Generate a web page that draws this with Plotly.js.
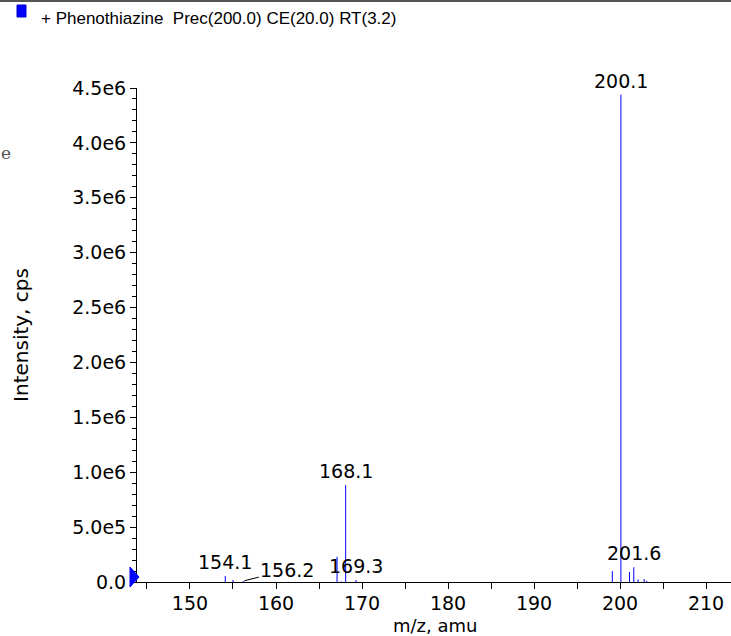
<!DOCTYPE html>
<html>
<head>
<meta charset="utf-8">
<script src="https://cdn.plot.ly/plotly-3.0.1.min.js"></script>
<style>html,body{margin:0;padding:0;background:#fff;}#chart{width:731px;height:636px;}</style>
</head>
<body>
<div id="chart"></div>
<script>
// Peak list (m/z, intensity in cps)
const peakMz = [154.1, 155.0, 156.2, 167.1, 167.6, 168.1, 169.3, 199.1, 200.1, 201.1, 201.6, 202.1, 202.8, 203.1];
const peakIntensity = [55000, 18000, 9000, 230000, 5000, 883000, 18000, 100000, 4440000, 91000, 134000, 24000, 27000, 10000];

// Labelled peaks
const labelMz = [154.1, 156.2, 168.1, 169.3, 200.1, 201.6];
const labelText = ["154.1", "156.2", "168.1", "169.3", "200.1", "201.6"];

// Axis ticks
const yTickVals = [0, 5e5, 1e6, 1.5e6, 2e6, 2.5e6, 3e6, 3.5e6, 4e6, 4.5e6];
const yTickText = ["0.0", "5.0e5", "1.0e6", "1.5e6", "2.0e6", "2.5e6", "3.0e6", "3.5e6", "4.0e6", "4.5e6"];
const xTickVals = [150, 160, 170, 180, 190, 200, 210];
const xTickText = ["150", "160", "170", "180", "190", "200", "210"];

const legendText = "+ Phenothiazine\u00A0\u00A0Prec(200.0) CE(20.0) RT(3.2)";
const xTitle = "m/z, amu";
const yTitle = "Intensity, cps";

const W = 731, H = 636;
const M = {l: 137, r: 0, t: 88, b: 54};
const PW = W - M.l - M.r, PH = H - M.t - M.b;
const px = x => (x - M.l) / PW;
const py = y => (H - M.b - y) / PH;

const xs = [], ys = [];
peakMz.forEach((m, i) => { xs.push(m, m, null); ys.push(0, peakIntensity[i], null); });

const trace = {
  type: 'scatter', mode: 'lines', x: xs, y: ys,
  line: {color: '#0000ff', width: 1}, hoverinfo: 'skip', showlegend: false
};

const annotations = labelMz.map((m, i) => {
  const idx = peakMz.indexOf(m);
  const inten = peakIntensity[idx];
  if (labelText[i] === "156.2") {
    return {x: m, y: inten, xref: 'x', yref: 'y', text: labelText[i], showarrow: true,
      arrowhead: 0, arrowwidth: 1, arrowcolor: '#000', ax: 44, ay: -11, standoff: 1,
      font: {family: 'DejaVu Sans', size: 19, color: '#000'}};
  }
  return {x: m, y: inten, xref: 'x', yref: 'y', text: labelText[i], showarrow: false,
    yanchor: 'middle', yshift: 14, font: {family: 'DejaVu Sans', size: 19, color: '#000'}};
});

annotations.push({
  x: px(39), y: py(18), xref: 'paper', yref: 'paper', xanchor: 'left', yanchor: 'middle',
  text: legendText, showarrow: false, font: {family: 'Liberation Sans', size: 17, color: '#000'}
});
annotations.push({
  x: px(6), y: py(153), xref: 'paper', yref: 'paper', xanchor: 'center', yanchor: 'middle',
  text: 'e', showarrow: false, font: {family: 'DejaVu Serif', size: 17, color: '#555'}
});
annotations.push({
  x: px(435), y: py(625), xref: 'paper', yref: 'paper', xanchor: 'center', yanchor: 'middle',
  text: xTitle, showarrow: false, font: {family: 'DejaVu Sans', size: 18, color: '#000'}, borderpad: 0
});

const shapes = [
  {type: 'line', xref: 'paper', yref: 'paper', x0: px(0), x1: px(731), y0: py(1), y1: py(1),
   line: {color: '#555', width: 2}},
  {type: 'rect', xref: 'paper', yref: 'paper', x0: px(17), x1: px(26), y0: py(17), y1: py(5),
   fillcolor: '#0000ff', line: {color: '#0000cc', width: 1}},
  {type: 'path', xref: 'paper', yref: 'paper',
   path: `M ${px(130)} ${py(567)} L ${px(139)} ${py(577)} L ${px(130)} ${py(587)} Z`,
   fillcolor: '#0000ff', line: {color: '#0000ff', width: 1}}
];

const layout = {
  width: W, height: H, margin: M,
  paper_bgcolor: '#fff', plot_bgcolor: '#fff',
  font: {family: 'DejaVu Sans', size: 19, color: '#000'},
  showlegend: false,
  xaxis: {
    range: [143.84, 212.9], showgrid: false, zeroline: false,
    showline: true, linecolor: '#000', linewidth: 1,
    ticks: 'outside', ticklen: 6, tickcolor: '#000', ticklabelstandoff: -2,
    tickvals: xTickVals, ticktext: xTickText,
    minor: {dtick: 5, tick0: 0, ticks: 'outside', ticklen: 6, tickcolor: '#000'},
    tickfont: {family: 'DejaVu Sans', size: 19, color: '#000'},
    title: {text: ''}
  },
  yaxis: {
    range: [0, 4.5e6], showgrid: false, zeroline: false,
    showline: true, linecolor: '#000', linewidth: 1,
    ticks: 'outside', ticklen: 6, tickcolor: '#000',
    tickvals: yTickVals, ticktext: yTickText,
    minor: {dtick: 1e5, tick0: 0, ticks: 'outside', ticklen: 4, tickcolor: '#000'},
    tickfont: {family: 'DejaVu Sans', size: 19, color: '#000'},
    title: {text: yTitle, font: {family: 'DejaVu Sans', size: 20, color: '#000'}, standoff: 38}
  },
  annotations: annotations,
  shapes: shapes
};

Plotly.newPlot('chart', [trace], layout, {displayModeBar: false, staticPlot: true});
</script>
</body>
</html>
